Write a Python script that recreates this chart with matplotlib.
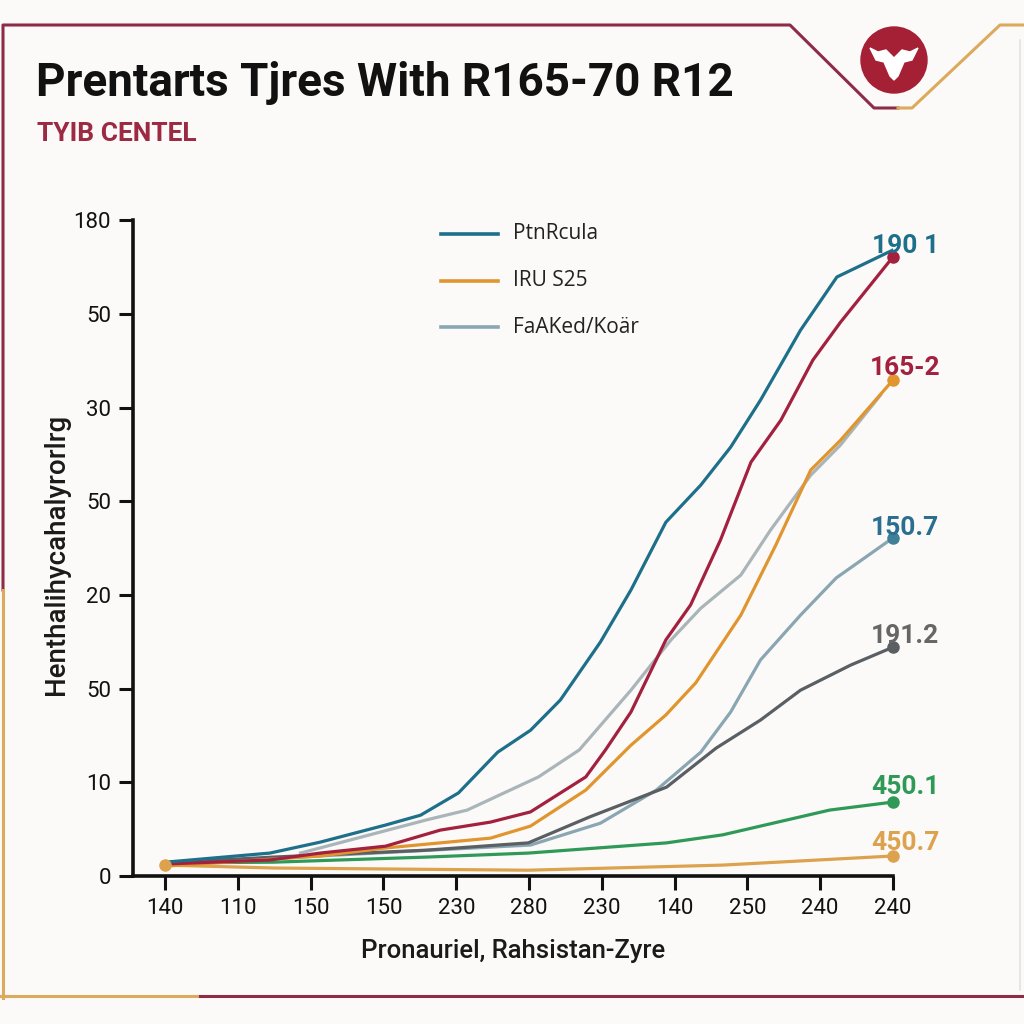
import matplotlib
matplotlib.use("Agg")
import matplotlib.pyplot as plt
from matplotlib.patches import Circle, Polygon

# chart data (x = tick index, y = value on the 0-180 scale)
x_tick_labels = ["140", "110", "150", "150", "230", "280", "230", "140", "250", "240", "240"]
y_tick_labels = ["0", "10", "50", "20", "50", "30", "50", "180"]

teal_x = [0, 1.44, 2.13, 3.03, 3.51, 4.03, 4.57, 5.02, 5.43, 5.98, 6.40, 6.88, 7.36, 7.77, 8.18, 8.73, 9.23, 10]
teal_y = [3.8, 6.3, 9.3, 14.0, 16.7, 22.8, 34.0, 40.0, 48.3, 64.2, 78.5, 97.1, 107.3, 117.7, 130.6, 149.8, 164.4, 171.8]

crimson_x = [0, 1.44, 2.13, 3.03, 3.78, 4.47, 5.02, 5.78, 6.05, 6.40, 6.88, 7.22, 7.63, 8.05, 8.46, 8.90, 9.28, 10]
crimson_y = [3.3, 4.4, 6.3, 8.2, 12.6, 14.8, 17.6, 27.2, 34.6, 45.0, 64.8, 74.4, 92.2, 113.6, 125.1, 141.6, 152.0, 169.9]

orange_x = [0, 2.13, 3.03, 3.78, 4.47, 5.02, 5.78, 6.40, 6.88, 7.29, 7.91, 8.39, 8.87, 9.28, 10]
orange_y = [2.7, 5.5, 7.7, 9.1, 10.4, 13.7, 23.6, 35.9, 44.2, 53.0, 71.6, 90.8, 111.4, 119.6, 136.1]

lgray_x = [1.86, 3.59, 4.15, 5.13, 5.69, 6.40, 6.95, 7.36, 7.91, 8.32, 8.87, 9.28, 9.83]
lgray_y = [6.3, 15.4, 18.1, 27.2, 34.6, 51.0, 64.8, 73.5, 82.6, 95.0, 110.0, 118.3, 132.0]

slate_x = [0, 3.65, 5.02, 5.98, 6.75, 7.36, 7.77, 8.18, 8.73, 9.22, 10]
slate_y = [3.3, 7.1, 8.5, 14.5, 23.6, 34.0, 45.0, 59.3, 71.6, 81.8, 92.8]

dgray_x = [0, 1.49, 3.59, 4.99, 5.83, 6.89, 7.57, 8.18, 8.73, 9.42, 10]
dgray_y = [3.6, 5.2, 7.1, 9.1, 16.2, 24.4, 35.1, 42.8, 51.0, 57.9, 62.8]

green_x = [0, 1.49, 3.59, 4.99, 6.89, 7.66, 9.13, 10]
green_y = [3.6, 3.8, 5.2, 6.3, 9.1, 11.3, 18.1, 20.3]

tan_x = [0, 1.49, 4.99, 7.66, 10]
tan_y = [3.0, 2.2, 1.6, 3.0, 5.5]

end_labels = ["190 1", "165-2", "150.7", "191.2", "450.1", "450.7"]
legend_labels = ["PtnRcula", "IRU S25", "FaAKed/Koär"]

TEAL = "#1d6f8a"
CRIMSON = "#a3213f"
ORANGE = "#e0952e"
LGRAY = "#aab5b9"
SLATE = "#8aa6b3"
DGRAY = "#5a5f63"
GREEN = "#2f9a58"
TAN = "#dca24e"
BG = "#fbfaf8"
FRAME_RED = "#8e2c48"
FRAME_GOLD = "#dcaa5c"

plt.rcParams["font.family"] = ["Roboto", "DejaVu Sans"]

fig = plt.figure(figsize=(10.24, 10.24), dpi=100, facecolor=BG)

# decorative frame / logo in pixel coords
bg = fig.add_axes([0, 0, 1, 1], zorder=0)
bg.set_xlim(0, 1024)
bg.set_ylim(1024, 0)
bg.axis("off")
bg.plot([3, 3, 790, 874, 898], [590, 25, 25, 108, 108], color=FRAME_RED, lw=2.2)
bg.plot([898, 912, 1000, 1024], [108, 108, 25, 25], color=FRAME_GOLD, lw=2.2)
bg.plot([3, 3], [590, 998], color=FRAME_GOLD, lw=2.2)
bg.plot([0, 200], [996, 996], color=FRAME_GOLD, lw=2.2)
bg.plot([200, 1024], [996, 996], color=FRAME_RED, lw=2.2)
bg.plot([1020, 1020], [40, 990], color="#e6e2de", lw=1.2)
bg.add_patch(Circle((894, 60), 33, color="#a51f35"))
bg.add_patch(Polygon([[870, 48], [878, 52], [886, 50], [894, 58], [902, 50], [910, 52], [918, 48],
                      [912, 60], [904, 62], [898, 76], [894, 80], [890, 76], [884, 62], [876, 60]],
                     closed=True, color="white"))

fig.text(0.035, 0.919, "Prentarts Tjres With R165-70 R12", fontsize=33, fontweight="bold",
         color="#111111", va="center", ha="left")
fig.text(0.036, 0.869, "TYIB CENTEL", fontsize=19, fontweight="bold",
         color="#9c2a42", va="center", ha="left")

ax = fig.add_axes([0.130, 0.1445, 0.742, 0.6405], zorder=2)
ax.set_facecolor("none")

lw = 2.3
ax.plot(lgray_x, lgray_y, color=LGRAY, lw=lw)
ax.plot(slate_x, slate_y, color=SLATE, lw=lw)
ax.plot(dgray_x, dgray_y, color=DGRAY, lw=lw)
ax.plot(green_x, green_y, color=GREEN, lw=lw)
ax.plot(tan_x, tan_y, color=TAN, lw=lw)
ax.plot(orange_x, orange_y, color=ORANGE, lw=lw)
ax.plot(crimson_x, crimson_y, color=CRIMSON, lw=lw)
ax.plot(teal_x, teal_y, color=TEAL, lw=lw)

ms = 8
ax.plot(crimson_x[-1], crimson_y[-1], "o", color=CRIMSON, ms=ms, clip_on=False)
ax.plot(orange_x[-1], orange_y[-1], "o", color=ORANGE, ms=ms, clip_on=False)
ax.plot(slate_x[-1], slate_y[-1], "o", color="#3f7f98", ms=ms, clip_on=False)
ax.plot(dgray_x[-1], dgray_y[-1], "o", color=DGRAY, ms=ms, clip_on=False)
ax.plot(green_x[-1], green_y[-1], "o", color=GREEN, ms=ms, clip_on=False)
ax.plot(tan_x[-1], tan_y[-1], "o", color=TAN, ms=ms, clip_on=False)
ax.plot(tan_x[0], tan_y[0], "o", color=TAN, ms=ms, clip_on=False)

label_colors = [TEAL, CRIMSON, "#2a6f8f", "#666666", GREEN, TAN]
label_y = [teal_y[-1], orange_y[-1], slate_y[-1], dgray_y[-1], green_y[-1], tan_y[-1]]
label_dy = [3, 9, 7, 8, 11, 9]
for txt, yv, c, dy in zip(end_labels, label_y, label_colors, label_dy):
    ax.annotate(txt, (10, yv), xytext=(9, dy), textcoords="offset points", ha="center", va="center",
                fontsize=19, fontweight="bold", color=c, annotation_clip=False)

ax.set_xlim(-0.44, 10)
ax.set_ylim(0, 180)
ax.set_xticks(range(len(x_tick_labels)))
ax.set_xticklabels(x_tick_labels, fontsize=16)
ax.set_yticks([i * 180 / 7 for i in range(len(y_tick_labels))])
ax.set_yticklabels(y_tick_labels, fontsize=16)
ax.tick_params(length=10, width=2.2, color="#111111", pad=6, labelcolor="#111111")
for side in ["top", "right"]:
    ax.spines[side].set_visible(False)
for side in ["left", "bottom"]:
    ax.spines[side].set_linewidth(2.6)
    ax.spines[side].set_color("#111111")

ax.set_xlabel("Pronauriel, Rahsistan-Zyre", fontsize=18.5, fontweight="medium", color="#1a1a1a", labelpad=14)
ax.set_ylabel("Henthalihycahalyrorlrg", fontsize=20, fontweight="medium", color="#1a1a1a")
ax.yaxis.set_label_coords(-0.083, 0.49)

# legend-like keys
leg_colors = [TEAL, ORANGE, SLATE]
for i, (lab, c) in enumerate(zip(legend_labels, leg_colors)):
    ypos = 0.979 - i * 0.071
    ax.plot([0.405, 0.48], [ypos, ypos], transform=ax.transAxes, color=c, lw=2.6, clip_on=False)
    ax.text(0.500, ypos, lab, transform=ax.transAxes, fontsize=15, va="center", ha="left",
            color="#222222", family=["Open Sans", "DejaVu Sans"])

fig.savefig("out.png", dpi=100, facecolor=BG)
